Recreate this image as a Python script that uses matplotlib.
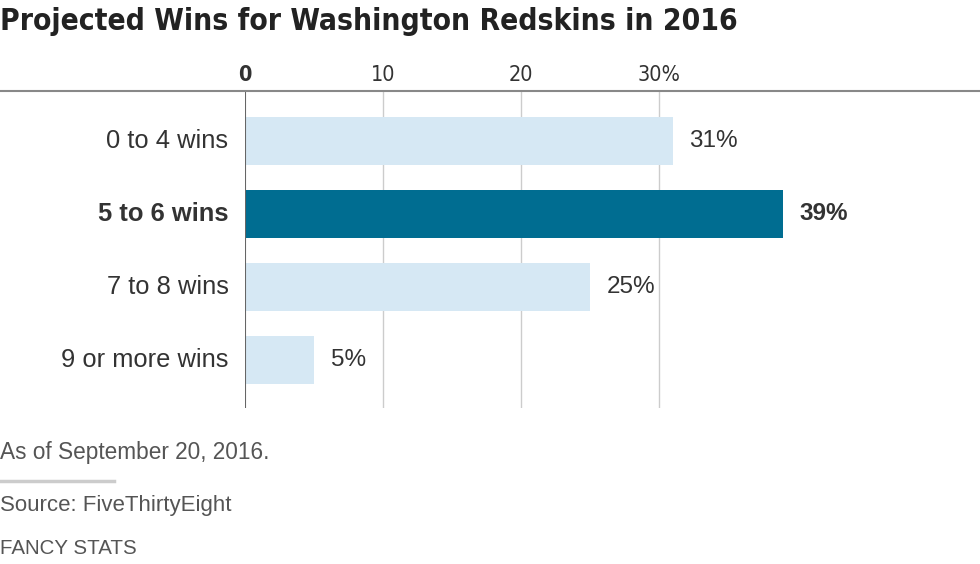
import matplotlib
matplotlib.use("Agg")
import matplotlib.pyplot as plt
from matplotlib.lines import Line2D

categories = ["0 to 4 wins", "5 to 6 wins", "7 to 8 wins", "9 or more wins"]
values = [31, 39, 25, 5]
highlight = [False, True, False, False]
ticks = [0, 10, 20, 30]
tick_labels = ["0", "10", "20", "30%"]

title = "Projected Wins for Washington Redskins in 2016"
note = "As of September 20, 2016."
source = "Source: FiveThirtyEight"
credit = "FANCY STATS"

plain = ["Liberation Sans", "DejaVu Sans"]
dark = "#333333"
gray = "#555555"

fig = plt.figure(figsize=(9.8, 5.64), dpi=100)
fig.patch.set_facecolor("white")
ax = fig.add_axes([245/980, 1-408/564, 1-245/980, (408-92)/564])
ax.set_xlim(0, 735/13.8)
ax.set_ylim(3.66, -0.67)

ypos = list(range(len(categories)))
colors = ["#006d91" if h else "#d6e8f4" for h in highlight]
ax.barh(ypos, values, height=0.66, color=colors, zorder=2)

for t in ticks[1:]:
    ax.axvline(t, color="#cccccc", lw=1, zorder=1)
ax.axvline(0, color="#666666", lw=1.5, zorder=3)

for s in ax.spines.values():
    s.set_visible(False)
ax.set_yticks([])
ax.set_xticks([])

for y, v, h in zip(ypos, values, highlight):
    ax.text(v + 1.2, y, f"{v}%", va="center", ha="left", fontsize=17.5,
            family=plain, color=dark, fontweight="bold" if h else "normal")
for y, c, h in zip(ypos, categories, highlight):
    ax.text(-1.2, y, c, va="center", ha="right", fontsize=18.4,
            family=plain, color=dark, fontweight="bold" if h else "normal")
for t, lab in zip(ticks, tick_labels):
    ax.text(t, -0.77, lab, va="bottom", ha="center",
            fontsize=15.5, family="DejaVu Sans", fontstretch="condensed", color=dark,
            fontweight="bold" if t == 0 else "normal")

fig.add_artist(Line2D([0, 1], [1-91/564, 1-91/564], color="#888888", lw=1.5))
t = fig.text(0.0, 1-22/564, title, fontsize=24, fontweight="bold", family="DejaVu Sans",
             fontstretch="condensed", color="#222222", va="center", ha="left")
fig.canvas.draw()
w = t.get_window_extent().width
t.set_fontsize(24 * 740 / w)
fig.text(0.0, 1-452/564, note, fontsize=16.3, family=plain, color=gray, va="center")
fig.add_artist(Line2D([0, 114/980], [1-481/564, 1-481/564], color="#cccccc", lw=2.5))
fig.text(0.0, 1-506/564, source, fontsize=16, family=plain, color=gray, va="center")
fig.text(0.0, 1-548/564, credit, fontsize=14.8, family=plain, color=gray, va="center")

fig.savefig("out.png", dpi=100)
